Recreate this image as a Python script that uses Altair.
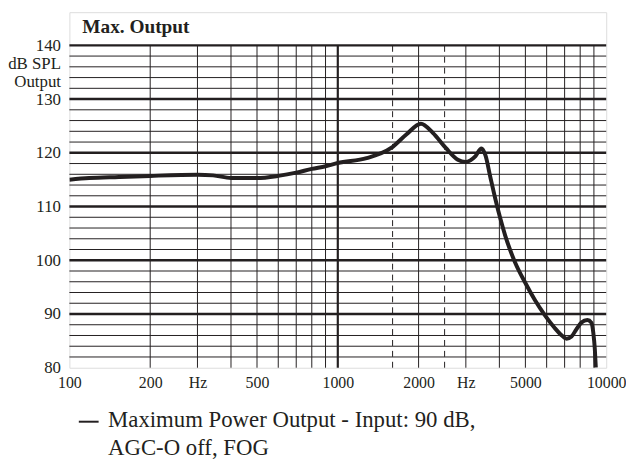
import altair as alt
import pandas as pd

# ---- data ----
freq_hz = [100, 118.5, 153, 200, 300, 343, 400, 500, 600, 700, 800, 900, 1000,
           1280, 1580, 1800, 2040, 2260, 2525, 2800, 2990, 3260, 3430, 3550,
           3700, 3860, 4030, 4205, 4387, 4577, 4982, 5424, 5905, 6430, 6767,
           7118, 7427, 7750, 8087, 8511, 8804, 8954, 9070, 9148]
output_db = [115.0, 115.3, 115.5, 115.7, 115.9, 115.8, 115.3, 115.3, 115.7, 116.3,
             117.0, 117.5, 118.1, 119.0, 120.9, 123.4, 125.4, 123.7, 120.9, 118.7,
             118.3, 119.4, 120.8, 119.5, 115.5, 111.5, 107.8, 104.6, 101.9, 99.6,
             95.9, 92.6, 89.8, 87.4, 86.2, 85.4, 85.8, 87.2, 88.4, 88.9, 88.4,
             86.5, 83.5, 80.0]
series_name = "Maximum Power Output - Input: 90 dB, AGC-O off, FOG"
legend_lines = ["Maximum Power Output - Input: 90 dB,", "AGC-O off, FOG"]
title_text = "Max. Output"

x_tick_values = [100, 200, 300, 500, 1000, 2000, 3000, 5000, 10000]
x_tick_labels = ["100", "200", "Hz", "500", "1000", "2000", "Hz", "5000", "10000"]
y_tick_values = [80, 90, 100, 110, 120, 130, 133.3, 136.7, 140]
y_tick_labels = ["80", "90", "100", "110", "120", "130", "Output", "dB SPL", "140"]

h_minor = [v for v in range(82, 140, 2) if v % 10 != 0]
h_major = [90, 100, 110, 120, 130, 140]
v_minor = [200, 300, 400, 500, 600, 700, 800, 900,
           2000, 3000, 4000, 5000, 6000, 7000, 8000, 9000]
v_major = [1000]
v_dashed = [1600, 2500]

INK = "#231f20"
FONT = "Liberation Serif"
W, H = 542, 359
Y_TOP = 146.17


def label_expr(values, labels):
    expr = "''"
    for v, l in reversed(list(zip(values, labels))):
        expr = f"datum.value == {v} ? '{l}' : ({expr})"
    return expr


xscale = alt.Scale(type="log", domain=[100, 10000], nice=False)
yscale = alt.Scale(domain=[80, Y_TOP], nice=False, zero=False)

curve = pd.DataFrame({"f": freq_hz, "db": output_db, "series": series_name})

x_axis = alt.Axis(values=x_tick_values, labelExpr=label_expr(x_tick_values, x_tick_labels),
                  ticks=False, tickSize=0, domain=False, grid=False, title=None,
                  labelFont=FONT, labelFontSize=16, labelColor=INK, labelPadding=7,
                  labelFlush=False, labelOverlap=False)
y_axis = alt.Axis(values=y_tick_values, labelExpr=label_expr(y_tick_values, y_tick_labels),
                  ticks=False, tickSize=0, domain=False, grid=False, title=None,
                  labelFont=FONT, labelFontSize=17, labelColor=INK, labelPadding=9,
                  labelOverlap=False, labelBaseline="middle")

hmin = alt.Chart(pd.DataFrame({"y": h_minor})).mark_rule(color=INK, strokeWidth=1).encode(
    y=alt.Y("y:Q", scale=yscale, axis=y_axis))
hmaj = alt.Chart(pd.DataFrame({"y": h_major})).mark_rule(color=INK, strokeWidth=2.4).encode(
    y=alt.Y("y:Q", scale=yscale))
vmin = alt.Chart(pd.DataFrame({"x": v_minor})).mark_rule(color=INK, strokeWidth=1).encode(
    x=alt.X("x:Q", scale=xscale, axis=x_axis), y=alt.datum(80), y2=alt.datum(140))
vmaj = alt.Chart(pd.DataFrame({"x": v_major})).mark_rule(color=INK, strokeWidth=2.2).encode(
    x=alt.X("x:Q", scale=xscale), y=alt.datum(80), y2=alt.datum(140))
vdash = alt.Chart(pd.DataFrame({"x": v_dashed})).mark_rule(color=INK, strokeWidth=1,
                                                          strokeDash=[6, 5]).encode(
    x=alt.X("x:Q", scale=xscale), y=alt.datum(80), y2=alt.datum(140))

legend_expr = "[" + ", ".join("'" + s + "'" for s in legend_lines) + "]"
line = alt.Chart(curve).mark_line(strokeWidth=4, interpolate="monotone", clip=True).encode(
    x=alt.X("f:Q", scale=xscale),
    y=alt.Y("db:Q", scale=yscale),
    stroke=alt.Stroke("series:N", scale=alt.Scale(range=[INK]),
                      legend=alt.Legend(title=None, orient="none", legendX=8, legendY=407,
                                        padding=0, symbolType="M-1,-0.5H1", symbolSize=400,
                                        symbolStrokeWidth=2, labelFont=FONT, labelFontSize=23,
                                        labelBaseline="alphabetic",
                                        labelColor=INK, labelLimit=0, labelOffset=8,
                                        labelExpr=legend_expr)),
)

chart = alt.layer(hmin, hmaj, vmin, vmaj, vdash, line).properties(
    width=W, height=H,
    title=alt.Title(title_text, anchor="start", frame="group", offset=-26, dx=13,
                    font=FONT, fontSize=19.5, fontWeight="bold", color=INK),
    autosize=alt.AutoSizeParams(type="none"),
    padding={"left": 62, "top": 2, "right": 20, "bottom": 96},
).configure_view(stroke=INK, strokeWidth=2.5).configure(
    background="white", style={"guide-label": {"lineHeight": 29}})

chart.save("out.html", embed_options={"renderer": "svg", "actions": False})
